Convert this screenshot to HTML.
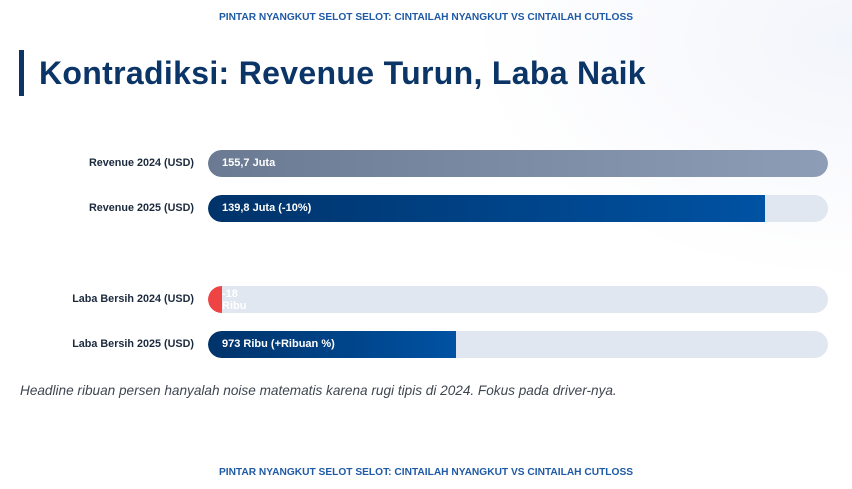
<!DOCTYPE html>
<html><head><meta charset="utf-8"><style>
html,body{margin:0;padding:0}
body{width:852px;height:489px;overflow:hidden;position:relative;font-family:"Liberation Sans",sans-serif;background:radial-gradient(ellipse 380px 240px at 852px 40px,#f2f5fb 0%,#f9fafd 50%,#ffffff 100%);}
.hdr{position:absolute;left:0;width:852px;text-align:center;font-size:10.2px;font-weight:bold;color:#1f5aa6;letter-spacing:0}
.title{position:absolute;left:19px;top:50px;height:46px;border-left:5px solid #0b3566;padding-left:15px;font-size:32px;font-weight:bold;color:#0b3566;line-height:46px;letter-spacing:0.32px}
.lbl{position:absolute;right:658px;font-size:10.8px;font-weight:bold;color:#1c2a3e;text-align:right;white-space:nowrap}
.track{position:absolute;left:208px;width:620px;height:27px;border-radius:14px;background:#e1e7f0;overflow:hidden}
.bar{position:absolute;left:0;top:0;height:27px;border-radius:14px 0 0 14px;}
.val{position:absolute;left:14px;top:0;line-height:27px;font-size:11px;font-weight:bold;color:#fff;white-space:nowrap}
.note{position:absolute;left:20px;top:383px;font-size:13.6px;font-style:italic;color:#3f4650}
</style></head><body>
<div class="hdr" style="top:12px">PINTAR NYANGKUT SELOT SELOT: CINTAILAH NYANGKUT VS CINTAILAH CUTLOSS</div>
<div class="title">Kontradiksi: Revenue Turun, Laba Naik</div>
<div id="chart"></div>
<div class="note">Headline ribuan persen hanyalah noise matematis karena rugi tipis di 2024. Fokus pada driver-nya.</div>
<div class="hdr" style="top:467px">PINTAR NYANGKUT SELOT SELOT: CINTAILAH NYANGKUT VS CINTAILAH CUTLOSS</div>
<script>
const categories=["Revenue 2024 (USD)","Revenue 2025 (USD)","Laba Bersih 2024 (USD)","Laba Bersih 2025 (USD)"];
const values=[155.7,139.8,-0.018,0.973];
const scaleMax=[155.7,155.7,2.43,2.43];
const valueLabels=["155,7 Juta","139,8 Juta (-10%)","-18 Ribu","973 Ribu (+Ribuan %)"];
const tops=[150,195,286,331];
const fills=["linear-gradient(90deg,#6b7a93,#8e9db6)","linear-gradient(90deg,#00336a,#0052a3)","#ef4444","linear-gradient(90deg,#00336a,#0052a3)"];
const chart=document.getElementById('chart');
const W=620;
function xScale(v,m){return Math.max(14,Math.abs(v)/m*W);}
categories.forEach((c,i)=>{
  const l=document.createElement('div');l.className='lbl';l.style.top=(tops[i]+7)+'px';l.textContent=c;
  
  
  chart.appendChild(l);
  const t=document.createElement('div');t.className='track';t.style.top=tops[i]+'px';
  
  
  const b=document.createElement('div');b.className='bar';
  
  
  const w=xScale(values[i],scaleMax[i]);
  b.style.width=w+'px';b.style.background=fills[i];
  if(w>=W-1)b.style.borderRadius='14px';
  t.appendChild(b);
  const v=document.createElement('div');v.className='val';
  
  
  if(values[i]<0){v.style.lineHeight='12px';v.style.top='2px';v.style.whiteSpace='normal';v.style.width='30px';}
  v.textContent=valueLabels[i];
  t.appendChild(v);
  chart.appendChild(t);
});
</script>
</body></html>
